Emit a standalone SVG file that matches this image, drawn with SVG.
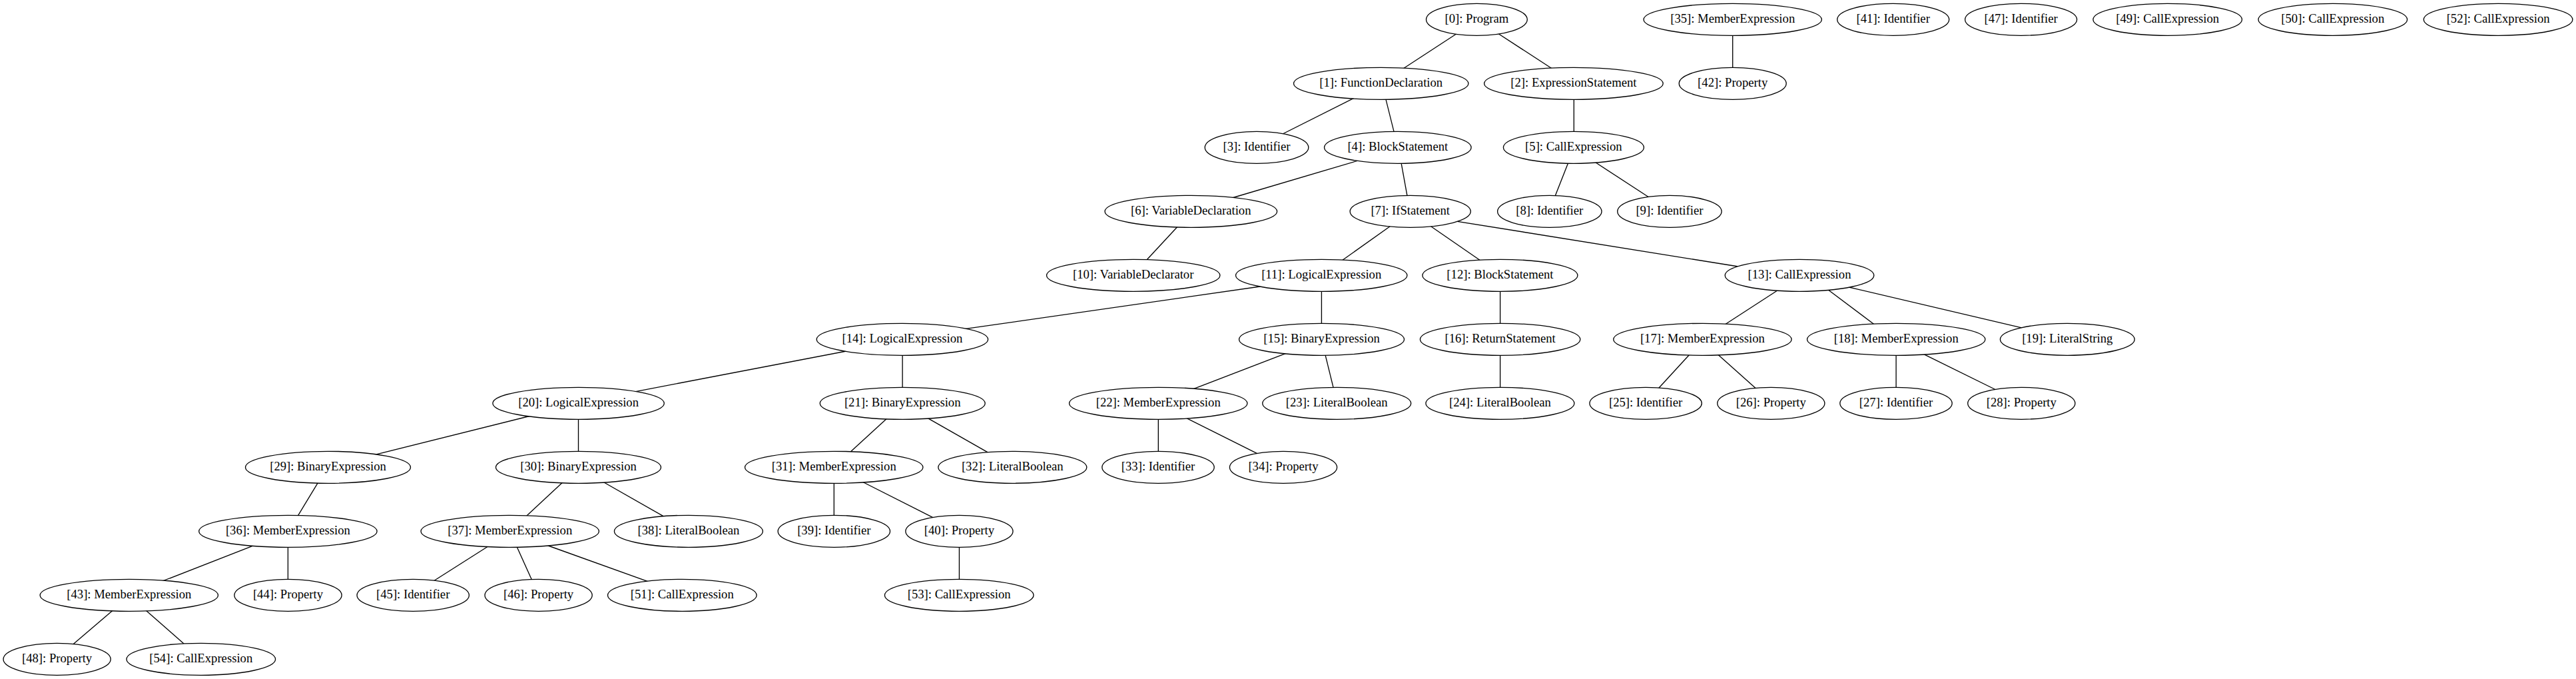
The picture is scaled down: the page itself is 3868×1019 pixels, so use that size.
<svg xmlns="http://www.w3.org/2000/svg" width="3868" height="1019" viewBox="0 0 3868 1019">
<style>
.n ellipse{fill:#fff;stroke:#000;stroke-width:1.33}
.n text{font-family:"Liberation Serif","Times New Roman",serif;font-size:18.67px;text-anchor:middle;fill:#000}
#edges line{stroke:#000;stroke-width:1.33}
</style>
<rect width="3868" height="1019" fill="#fff"/>
<g id="edges">
<line x1="2191.6" y1="47.7" x2="2102.7" y2="105.7"/>
<line x1="2244.4" y1="47" x2="2334.7" y2="105.7"/>
<line x1="2601.7" y1="49" x2="2601.7" y2="105"/>
<line x1="2038.8" y1="144.3" x2="1920" y2="204"/>
<line x1="2080" y1="145.3" x2="2094" y2="201.3"/>
<line x1="2363.3" y1="145" x2="2363.3" y2="201"/>
<line x1="2048.5" y1="238.3" x2="1839.9" y2="300"/>
<line x1="2103.5" y1="241.7" x2="2113.6" y2="297.3"/>
<line x1="2355.8" y1="241.7" x2="2333.9" y2="297.3"/>
<line x1="2390.4" y1="240.3" x2="2480.5" y2="299"/>
<line x1="1771.3" y1="336.7" x2="1719.1" y2="393"/>
<line x1="2092.4" y1="336" x2="2010.7" y2="394"/>
<line x1="2143.2" y1="336" x2="2227.3" y2="394"/>
<line x1="2175.9" y1="330.3" x2="2622.5" y2="402"/>
<line x1="1905.9" y1="428" x2="1441.6" y2="494.7"/>
<line x1="1984.4" y1="433" x2="1984.4" y2="489"/>
<line x1="2252.6" y1="433" x2="2252.6" y2="489"/>
<line x1="2673.8" y1="432.7" x2="2584.3" y2="490.7"/>
<line x1="2742.2" y1="432.7" x2="2818.4" y2="490"/>
<line x1="2763.4" y1="428" x2="3047.2" y2="494.7"/>
<line x1="1284.6" y1="524.3" x2="940.2" y2="590.3"/>
<line x1="1355.1" y1="529" x2="1355.1" y2="585"/>
<line x1="1937.9" y1="527.7" x2="1787.6" y2="585.3"/>
<line x1="1989.2" y1="529.3" x2="2002.8" y2="584.7"/>
<line x1="2252.6" y1="529" x2="2252.6" y2="585"/>
<line x1="2539.5" y1="529.3" x2="2488.1" y2="585.3"/>
<line x1="2576.4" y1="529.3" x2="2639.7" y2="585.7"/>
<line x1="2847.1" y1="529" x2="2847.1" y2="585"/>
<line x1="2882.1" y1="528.3" x2="3003.1" y2="588"/>
<line x1="805" y1="622" x2="555.1" y2="684.3"/>
<line x1="868.5" y1="625" x2="868.5" y2="681"/>
<line x1="1334.2" y1="625.7" x2="1273.6" y2="681.3"/>
<line x1="1387.5" y1="624.3" x2="1489.4" y2="682.3"/>
<line x1="1739.3" y1="625" x2="1739.3" y2="681"/>
<line x1="1774.9" y1="624.3" x2="1895.8" y2="684.7"/>
<line x1="479.1" y1="721.7" x2="445.3" y2="777.3"/>
<line x1="847.9" y1="721" x2="786.6" y2="778"/>
<line x1="900" y1="720" x2="1003.1" y2="778.7"/>
<line x1="1252.3" y1="721" x2="1252.3" y2="777"/>
<line x1="1288.8" y1="720" x2="1408.2" y2="780.3"/>
<line x1="386.2" y1="816.7" x2="239.8" y2="873.7"/>
<line x1="432.4" y1="817" x2="432.4" y2="873"/>
<line x1="737.1" y1="817.3" x2="645.8" y2="875.3"/>
<line x1="774.6" y1="817.3" x2="799.8" y2="873"/>
<line x1="815" y1="816" x2="978.4" y2="874.7"/>
<line x1="1440.4" y1="817" x2="1440.4" y2="873"/>
<line x1="172.6" y1="913.3" x2="106.4" y2="969.7"/>
<line x1="215.9" y1="913.3" x2="280.3" y2="969.7"/>
</g>
<g id="node0" class="n"><ellipse cx="2217.4" cy="29.3" rx="75.9" ry="24"/><text x="2217.4" y="34.2">[0]: Program</text></g>
<g id="node35" class="n"><ellipse cx="2601.7" cy="29.3" rx="133.7" ry="24"/><text x="2601.7" y="34.2">[35]: MemberExpression</text></g>
<g id="node41" class="n"><ellipse cx="2842.7" cy="29.3" rx="84" ry="24"/><text x="2842.7" y="34.2">[41]: Identifier</text></g>
<g id="node47" class="n"><ellipse cx="3034.6" cy="29.3" rx="84" ry="24"/><text x="3034.6" y="34.2">[47]: Identifier</text></g>
<g id="node49" class="n"><ellipse cx="3254.7" cy="29.3" rx="111.8" ry="24"/><text x="3254.7" y="34.2">[49]: CallExpression</text></g>
<g id="node50" class="n"><ellipse cx="3502.8" cy="29.3" rx="111.8" ry="24"/><text x="3502.8" y="34.2">[50]: CallExpression</text></g>
<g id="node52" class="n"><ellipse cx="3751.1" cy="29.3" rx="111.8" ry="24"/><text x="3751.1" y="34.2">[52]: CallExpression</text></g>
<g id="node1" class="n"><ellipse cx="2073.7" cy="125.3" rx="131.2" ry="24"/><text x="2073.7" y="130.2">[1]: FunctionDeclaration</text></g>
<g id="node2" class="n"><ellipse cx="2362.9" cy="125.3" rx="134.3" ry="24"/><text x="2362.9" y="130.2">[2]: ExpressionStatement</text></g>
<g id="node42" class="n"><ellipse cx="2601.7" cy="125.3" rx="80.5" ry="24"/><text x="2601.7" y="130.2">[42]: Property</text></g>
<g id="node3" class="n"><ellipse cx="1887" cy="221.3" rx="77.8" ry="24"/><text x="1887" y="226.2">[3]: Identifier</text></g>
<g id="node4" class="n"><ellipse cx="2098.8" cy="221.3" rx="110.3" ry="24"/><text x="2098.8" y="226.2">[4]: BlockStatement</text></g>
<g id="node5" class="n"><ellipse cx="2362.9" cy="221.3" rx="105.5" ry="24"/><text x="2362.9" y="226.2">[5]: CallExpression</text></g>
<g id="node6" class="n"><ellipse cx="1788.3" cy="317.3" rx="129.3" ry="24"/><text x="1788.3" y="322.2">[6]: VariableDeclaration</text></g>
<g id="node7" class="n"><ellipse cx="2117.7" cy="317.3" rx="90.6" ry="24"/><text x="2117.7" y="322.2">[7]: IfStatement</text></g>
<g id="node8" class="n"><ellipse cx="2326.8" cy="317.3" rx="78.2" ry="24"/><text x="2326.8" y="322.2">[8]: Identifier</text></g>
<g id="node9" class="n"><ellipse cx="2506.9" cy="317.3" rx="78.2" ry="24"/><text x="2506.9" y="322.2">[9]: Identifier</text></g>
<g id="node10" class="n"><ellipse cx="1701.7" cy="413.3" rx="130.2" ry="24"/><text x="1701.7" y="418.2">[10]: VariableDeclarator</text></g>
<g id="node11" class="n"><ellipse cx="1984.2" cy="413.3" rx="128.7" ry="24"/><text x="1984.2" y="418.2">[11]: LogicalExpression</text></g>
<g id="node12" class="n"><ellipse cx="2252.4" cy="413.3" rx="116.5" ry="24"/><text x="2252.4" y="418.2">[12]: BlockStatement</text></g>
<g id="node13" class="n"><ellipse cx="2702" cy="413.3" rx="111.8" ry="24"/><text x="2702" y="418.2">[13]: CallExpression</text></g>
<g id="node14" class="n"><ellipse cx="1354.9" cy="509.3" rx="128.7" ry="24"/><text x="1354.9" y="514.2">[14]: LogicalExpression</text></g>
<g id="node15" class="n"><ellipse cx="1984.5" cy="509.3" rx="124" ry="24"/><text x="1984.5" y="514.2">[15]: BinaryExpression</text></g>
<g id="node16" class="n"><ellipse cx="2252.6" cy="509.3" rx="120.2" ry="24"/><text x="2252.6" y="514.2">[16]: ReturnStatement</text></g>
<g id="node17" class="n"><ellipse cx="2556.4" cy="509.3" rx="133.7" ry="24"/><text x="2556.4" y="514.2">[17]: MemberExpression</text></g>
<g id="node18" class="n"><ellipse cx="2847.2" cy="509.3" rx="133.7" ry="24"/><text x="2847.2" y="514.2">[18]: MemberExpression</text></g>
<g id="node19" class="n"><ellipse cx="3104.3" cy="509.3" rx="100.9" ry="24"/><text x="3104.3" y="514.2">[19]: LiteralString</text></g>
<g id="node20" class="n"><ellipse cx="868.6" cy="605.3" rx="128.7" ry="24"/><text x="868.6" y="610.2">[20]: LogicalExpression</text></g>
<g id="node21" class="n"><ellipse cx="1355.2" cy="605.3" rx="124" ry="24"/><text x="1355.2" y="610.2">[21]: BinaryExpression</text></g>
<g id="node22" class="n"><ellipse cx="1739.2" cy="605.3" rx="133.7" ry="24"/><text x="1739.2" y="610.2">[22]: MemberExpression</text></g>
<g id="node23" class="n"><ellipse cx="2007.2" cy="605.3" rx="111.5" ry="24"/><text x="2007.2" y="610.2">[23]: LiteralBoolean</text></g>
<g id="node24" class="n"><ellipse cx="2252.4" cy="605.3" rx="111.5" ry="24"/><text x="2252.4" y="610.2">[24]: LiteralBoolean</text></g>
<g id="node25" class="n"><ellipse cx="2471.1" cy="605.3" rx="84.2" ry="24"/><text x="2471.1" y="610.2">[25]: Identifier</text></g>
<g id="node26" class="n"><ellipse cx="2659.3" cy="605.3" rx="80.6" ry="24"/><text x="2659.3" y="610.2">[26]: Property</text></g>
<g id="node27" class="n"><ellipse cx="2847" cy="605.3" rx="84.2" ry="24"/><text x="2847" y="610.2">[27]: Identifier</text></g>
<g id="node28" class="n"><ellipse cx="3035.3" cy="605.3" rx="80.6" ry="24"/><text x="3035.3" y="610.2">[28]: Property</text></g>
<g id="node29" class="n"><ellipse cx="492.5" cy="701.3" rx="124" ry="24"/><text x="492.5" y="706.2">[29]: BinaryExpression</text></g>
<g id="node30" class="n"><ellipse cx="868.5" cy="701.3" rx="124" ry="24"/><text x="868.5" y="706.2">[30]: BinaryExpression</text></g>
<g id="node31" class="n"><ellipse cx="1252.2" cy="701.3" rx="133.7" ry="24"/><text x="1252.2" y="706.2">[31]: MemberExpression</text></g>
<g id="node32" class="n"><ellipse cx="1520.3" cy="701.3" rx="111.5" ry="24"/><text x="1520.3" y="706.2">[32]: LiteralBoolean</text></g>
<g id="node33" class="n"><ellipse cx="1739" cy="701.3" rx="84.2" ry="24"/><text x="1739" y="706.2">[33]: Identifier</text></g>
<g id="node34" class="n"><ellipse cx="1927" cy="701.3" rx="80.6" ry="24"/><text x="1927" y="706.2">[34]: Property</text></g>
<g id="node36" class="n"><ellipse cx="432.4" cy="797.3" rx="133.7" ry="24"/><text x="432.4" y="802.2">[36]: MemberExpression</text></g>
<g id="node37" class="n"><ellipse cx="765.7" cy="797.3" rx="133.7" ry="24"/><text x="765.7" y="802.2">[37]: MemberExpression</text></g>
<g id="node38" class="n"><ellipse cx="1033.9" cy="797.3" rx="111.5" ry="24"/><text x="1033.9" y="802.2">[38]: LiteralBoolean</text></g>
<g id="node39" class="n"><ellipse cx="1252.3" cy="797.3" rx="84.2" ry="24"/><text x="1252.3" y="802.2">[39]: Identifier</text></g>
<g id="node40" class="n"><ellipse cx="1440.4" cy="797.3" rx="80.6" ry="24"/><text x="1440.4" y="802.2">[40]: Property</text></g>
<g id="node43" class="n"><ellipse cx="193.8" cy="893.3" rx="133.7" ry="24"/><text x="193.8" y="898.2">[43]: MemberExpression</text></g>
<g id="node44" class="n"><ellipse cx="432.5" cy="893.3" rx="80.6" ry="24"/><text x="432.5" y="898.2">[44]: Property</text></g>
<g id="node45" class="n"><ellipse cx="620.2" cy="893.3" rx="84.2" ry="24"/><text x="620.2" y="898.2">[45]: Identifier</text></g>
<g id="node46" class="n"><ellipse cx="808.6" cy="893.3" rx="80.6" ry="24"/><text x="808.6" y="898.2">[46]: Property</text></g>
<g id="node51" class="n"><ellipse cx="1024.3" cy="893.3" rx="111.8" ry="24"/><text x="1024.3" y="898.2">[51]: CallExpression</text></g>
<g id="node53" class="n"><ellipse cx="1440.2" cy="893.3" rx="111.8" ry="24"/><text x="1440.2" y="898.2">[53]: CallExpression</text></g>
<g id="node48" class="n"><ellipse cx="85.6" cy="989.3" rx="80.6" ry="24"/><text x="85.6" y="994.2">[48]: Property</text></g>
<g id="node54" class="n"><ellipse cx="301.8" cy="989.3" rx="111.8" ry="24"/><text x="301.8" y="994.2">[54]: CallExpression</text></g>
</svg>
